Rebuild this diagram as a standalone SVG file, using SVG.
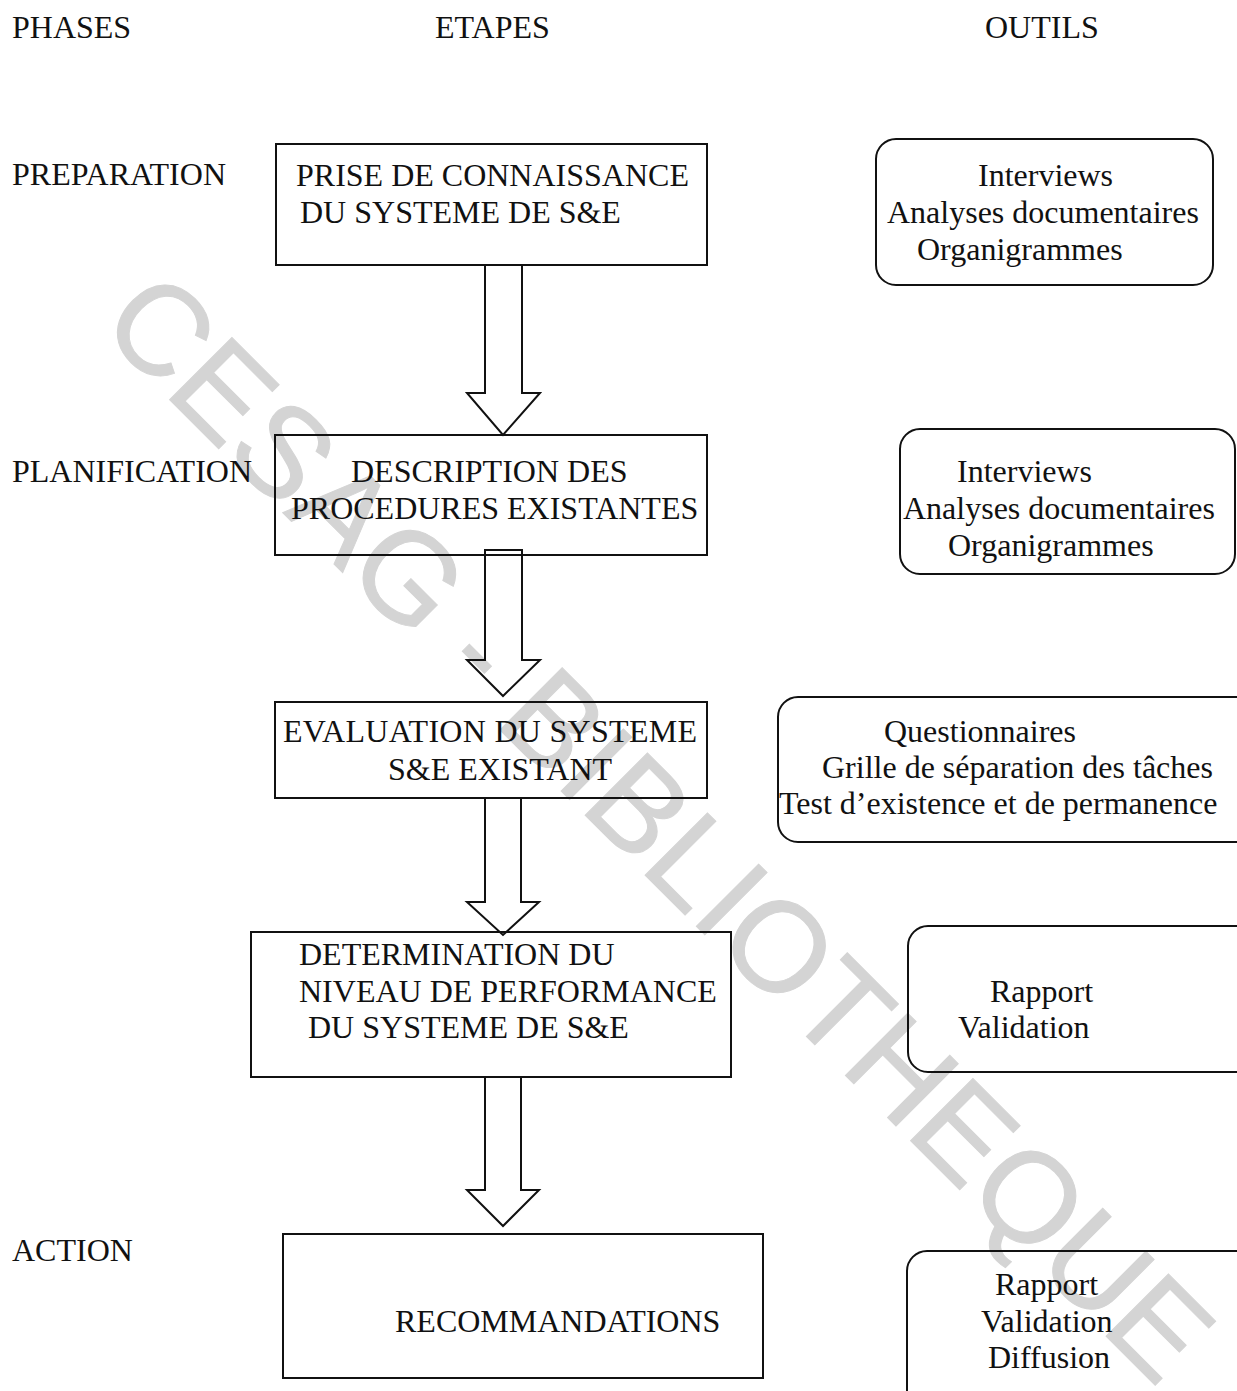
<svg xmlns="http://www.w3.org/2000/svg" width="1237" height="1391" viewBox="0 0 1237 1391">
  <style>
    .t { font-family: "Liberation Serif", "Times New Roman", serif; font-size: 32px; fill: #111; }
    .box { fill: none; stroke: #111; stroke-width: 2; }
    .tool { fill: none; stroke: #111; stroke-width: 2; }
    .arrow { fill: none; stroke: #111; stroke-width: 2; stroke-linejoin: miter; }
    .wm { font-family: "Liberation Sans", Arial, sans-serif; font-size: 128px; fill: #d4d4d4; stroke: #d4d4d4; stroke-width: 1; }
  </style>

  <rect x="0" y="0" width="1237" height="1391" fill="#ffffff"/>

  <!-- library stamp across the page -->
  <text class="wm" x="97" y="327" transform="rotate(45 97 327)" textLength="1502" lengthAdjust="spacing">CESAG - BIBLIOTHEQUE</text>

  <!-- column headers -->
  <g id="headers">
    <text class="t" x="12" y="38">PHASES</text>
    <text class="t" x="435" y="38">ETAPES</text>
    <text class="t" x="985" y="38">OUTILS</text>
  </g>

  <!-- phase labels -->
  <g id="phases">
    <text class="t" x="12" y="185">PREPARATION</text>
    <text class="t" x="12" y="482">PLANIFICATION</text>
    <text class="t" x="12" y="1261">ACTION</text>
  </g>

  <!-- steps -->
  <g id="step-prise">
    <rect class="box" x="276" y="144" width="431" height="121"/>
    <text class="t" x="296" y="186">PRISE DE CONNAISSANCE</text>
    <text class="t" x="300" y="223">DU SYSTEME DE S&amp;E</text>
  </g>
  <g id="step-description">
    <rect class="box" x="275" y="435" width="432" height="120"/>
    <text class="t" x="351" y="482">DESCRIPTION DES</text>
    <text class="t" x="291" y="519">PROCEDURES EXISTANTES</text>
  </g>
  <g id="step-evaluation">
    <rect class="box" x="275" y="702" width="432" height="96"/>
    <text class="t" x="283" y="742" textLength="414" lengthAdjust="spacing">EVALUATION DU SYSTEME</text>
    <text class="t" x="388" y="780">S&amp;E EXISTANT</text>
  </g>
  <g id="step-determination">
    <rect class="box" x="251" y="932" width="480" height="145"/>
    <text class="t" x="299" y="965">DETERMINATION DU</text>
    <text class="t" x="299" y="1002">NIVEAU DE PERFORMANCE</text>
    <text class="t" x="308" y="1038">DU SYSTEME DE S&amp;E</text>
  </g>
  <g id="step-recommandations">
    <rect class="box" x="283" y="1234" width="480" height="144"/>
    <text class="t" x="395" y="1332">RECOMMANDATIONS</text>
  </g>

  <!-- tools -->
  <g id="tools-preparation">
    <rect class="tool" x="876" y="139" width="337" height="146" rx="20" ry="20"/>
    <text class="t" x="978" y="186">Interviews</text>
    <text class="t" x="887" y="223">Analyses documentaires</text>
    <text class="t" x="917" y="260">Organigrammes</text>
  </g>
  <g id="tools-planification">
    <rect class="tool" x="900" y="429" width="335" height="145" rx="20" ry="20"/>
    <text class="t" x="957" y="482">Interviews</text>
    <text class="t" x="903" y="519">Analyses documentaires</text>
    <text class="t" x="948" y="556">Organigrammes</text>
  </g>
  <g id="tools-evaluation">
    <rect class="tool" x="778" y="697" width="480" height="145" rx="20" ry="20"/>
    <text class="t" x="884" y="742">Questionnaires</text>
    <text class="t" x="822" y="778">Grille de séparation des tâches</text>
    <text class="t" x="779" y="814">Test d’existence et de permanence</text>
  </g>
  <g id="tools-determination">
    <rect class="tool" x="908" y="926" width="350" height="146" rx="20" ry="20"/>
    <text class="t" x="990" y="1002">Rapport</text>
    <text class="t" x="958" y="1038">Validation</text>
  </g>
  <g id="tools-action">
    <rect class="tool" x="907" y="1251" width="350" height="160" rx="20" ry="20"/>
    <text class="t" x="995" y="1295">Rapport</text>
    <text class="t" x="981" y="1332">Validation</text>
    <text class="t" x="988" y="1368">Diffusion</text>
  </g>

  <!-- block arrows between steps -->
  <g id="connectors">
    <polygon class="arrow" points="485,265 522,265 522,393 540,393 503,435 467,393 485,393"/>
    <polygon class="arrow" points="485,550 522,550 522,660 540,660 503,696 467,660 485,660"/>
    <polygon class="arrow" points="485,798 521,798 521,902 539,902 503,935 467,902 485,902"/>
    <polygon class="arrow" points="485,1077 521,1077 521,1190 539,1190 503,1226 467,1190 485,1190"/>
  </g>
</svg>
